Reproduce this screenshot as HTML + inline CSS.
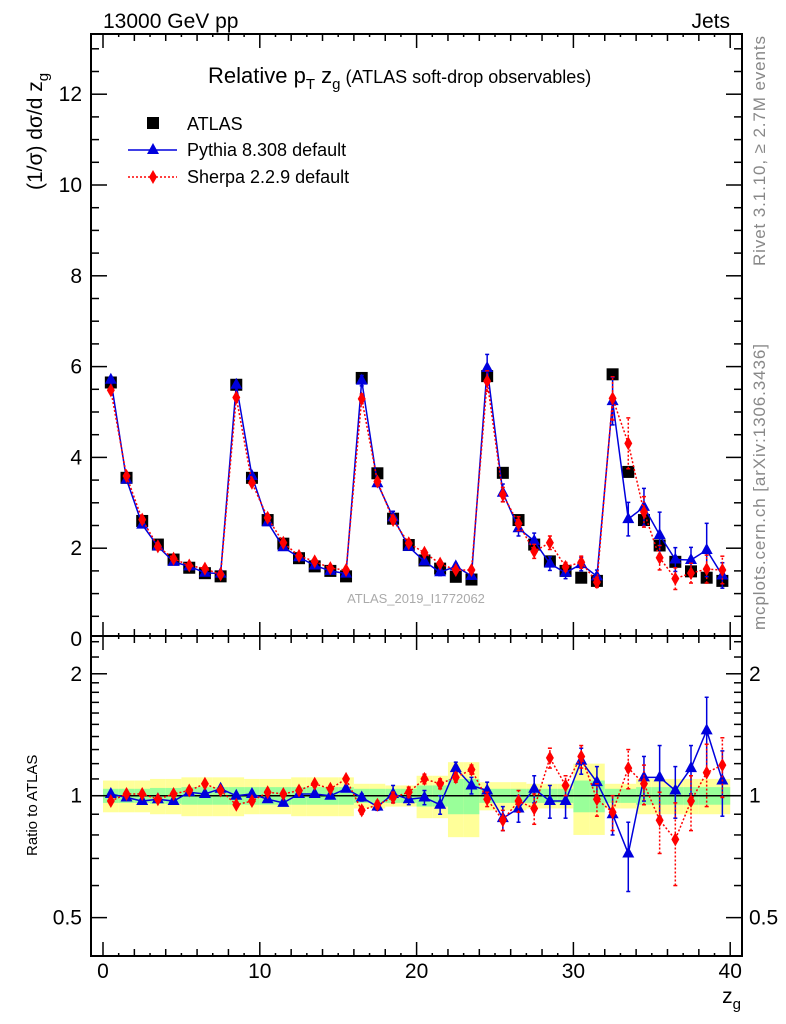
<!DOCTYPE html>
<html><head><meta charset="utf-8"><style>
html,body{margin:0;padding:0;background:#fff;}
svg{display:block;font-family:"Liberation Sans",sans-serif;}
</style></head><body>
<svg id="c" width="786" height="1024" viewBox="0 0 786 1024">
<g id="bands"></g>
<g id="marks"></g>
<g id="axes"></g>
<text x="103" y="28" font-size="21">13000 GeV pp</text>
<text x="730" y="28" font-size="21" text-anchor="end">Jets</text>
<text x="208" y="83" font-size="22">Relative p<tspan font-size="15" dy="6">T</tspan><tspan dy="-6"> z</tspan><tspan font-size="15" dy="6">g</tspan><tspan font-size="18" dy="-6"> (ATLAS soft-drop observables)</tspan></text>
<text x="416" y="603" font-size="13" fill="#aaa" text-anchor="middle">ATLAS_2019_I1772062</text>
<text transform="translate(42,190) rotate(-90)" font-size="21" text-anchor="start">(1/σ) dσ/d z<tspan font-size="15" dy="6">g</tspan></text>
<text transform="translate(37,856) rotate(-90)" font-size="15">Ratio to ATLAS</text>
<text x="741" y="1003" font-size="21" text-anchor="end">z<tspan font-size="15" dy="6">g</tspan></text>
<text transform="translate(765,266) rotate(-90)" font-size="17" fill="#888" textLength="230">Rivet 3.1.10, ≥ 2.7M events</text>
<text transform="translate(765,630) rotate(-90)" font-size="17" fill="#888" textLength="286">mcplots.cern.ch [arXiv:1306.3436]</text>
<g>
<rect x="147" y="117" width="12" height="12" fill="#000"/>
<text x="187" y="130" font-size="18">ATLAS</text>
<line x1="128" y1="150" x2="177" y2="150" stroke="#0000dd" stroke-width="1.5"/>
<polygon points="153,143 159,154 147,154" fill="#0000dd"/>
<text x="187" y="156" font-size="18">Pythia 8.308 default</text>
<line x1="128" y1="177" x2="177" y2="177" stroke="#f00" stroke-width="1.5" stroke-dasharray="2,2"/>
<polygon points="153,170 157,177 153,184 149,177" fill="#f00"/>
<text x="187" y="183" font-size="18">Sherpa 2.2.9 default</text>
</g>
</svg>
<script>
const dataVals=[5.65,3.55,2.6,2.08,1.75,1.57,1.45,1.38,5.6,3.55,2.62,2.1,1.78,1.6,1.5,1.38,5.75,3.65,2.65,2.07,1.73,1.55,1.37,1.31,5.79,3.66,2.62,2.08,1.71,1.5,1.35,1.28,5.83,3.68,2.62,2.06,1.7,1.49,1.35,1.28];
const dataStat=[.04,.04,.04,.045,.045,.05,.05,.05,.05,.05,.05,.05,.05,.05,.05,.05,.04,.04,.04,.04,.06,.06,.1,.1,.04,.04,.04,.04,.04,.04,.09,.09,.04,.04,.05,.05,.05,.05,.05,.05];
const dataTot=[.09,.09,.09,.1,.1,.11,.11,.11,.11,.1,.1,.1,.11,.11,.11,.11,.07,.07,.06,.06,.12,.12,.21,.21,.08,.08,.08,.07,.07,.07,.2,.2,.07,.07,.1,.1,.1,.1,.1,.1];
const pyVals=[5.71,3.51,2.52,2.04,1.70,1.60,1.46,1.44,5.6,3.59,2.57,2.02,1.80,1.62,1.5,1.44,5.69,3.43,2.68,2.03,1.71,1.47,1.60,1.39,5.97,3.22,2.44,2.16,1.66,1.46,1.65,1.38,5.24,2.64,2.91,2.29,1.75,1.74,1.96,1.40];
const pyRatio=[1.01,.99,.97,.98,.97,1.02,1.01,1.04,1.0,1.01,.98,.96,1.01,1.01,1.0,1.04,.99,.94,1.01,.98,.99,.95,1.17,1.06,1.03,.88,.93,1.04,.97,.97,1.22,1.08,.90,.72,1.11,1.11,1.03,1.17,1.45,1.09];
const pyErr=[.01,.01,.01,.01,.01,.01,.01,.01,.01,.01,.01,.01,.01,.01,.01,.015,.02,.02,.05,.03,.04,.05,.04,.05,.05,.06,.07,.08,.09,.09,.09,.10,.10,.14,.14,.22,.15,.16,.3,.2];
const shVals=[5.48,3.59,2.63,2.04,1.77,1.62,1.55,1.42,5.32,3.44,2.67,2.12,1.83,1.71,1.56,1.52,5.29,3.47,2.62,2.11,1.90,1.66,1.52,1.52,5.68,3.18,2.54,1.93,2.12,1.59,1.69,1.25,5.30,4.31,2.80,1.79,1.33,1.45,1.54,1.52];
const shRatio=[.97,1.01,1.01,.98,1.01,1.03,1.07,1.03,.95,.97,1.02,1.01,1.03,1.07,1.04,1.10,.92,.95,.99,1.02,1.10,1.07,1.11,1.16,.98,.87,.97,.93,1.24,1.06,1.25,.98,.91,1.17,1.07,.87,.78,.97,1.14,1.19];
const shErr=[.01,.01,.01,.01,.01,.01,.01,.01,.01,.01,.01,.01,.01,.01,.01,.01,.02,.02,.03,.03,.03,.03,.03,.03,.04,.05,.06,.08,.07,.06,.08,.09,.09,.13,.12,.15,.18,.15,.2,.2];
const xTicks=[0,10,20,30,40];
const yTicks=[0,2,4,6,8,10,12];
const rTicks=[0.5,1,2];

const NS="http://www.w3.org/2000/svg";
const X0=103,XS=15.68,Y0=639,YS=45.4,R1=795.7,RS=405;
const L=91,R=742,T=34,MB=636,RB=956;
const xs=v=>X0+v*XS, ym=v=>Y0-v*YS, yr=v=>R1-Math.log10(v)*RS;
function mk(tag,at,parent){const e=document.createElementNS(NS,tag);for(const k in at)e.setAttribute(k,at[k]);(parent||document.getElementById('marks')).appendChild(e);return e;}
const bands=document.getElementById('bands'),axes=document.getElementById('axes');
dataVals.forEach((d,i)=>{
  let b=mk('rect',{x:xs(i),y:yr(1+dataTot[i]),width:XS,height:yr(1-dataTot[i])-yr(1+dataTot[i]),fill:'#ffff99'},bands);
  
  
  let g=mk('rect',{x:xs(i),y:yr(1+dataStat[i]),width:XS,height:yr(1-dataStat[i])-yr(1+dataStat[i]),fill:'#99ff99'},bands);
  
  
});
mk('line',{x1:L,y1:R1,x2:R,y2:R1,stroke:'#000','stroke-width':1.5},bands);
function series(vals,err,color,dash,shape,ysc,name,rel){
  const g=mk('g',{});
  
  
  const pts=vals.map((v,i)=>xs(i+0.5)+','+ysc(v)).join(' ');
  mk('polyline',{points:pts,fill:'none',stroke:color,'stroke-width':1.5,'stroke-dasharray':dash},g);
  vals.forEach((v,i)=>{
    const x=xs(i+0.5),y=ysc(v),e=rel?err[i]:v*err[i];
    const lo=ysc(v-e),hi=ysc(v+e);
    if(Math.abs(lo-hi)>4){
      mk('line',{x1:x,y1:lo,x2:x,y2:hi,stroke:color,'stroke-width':1.5,'stroke-dasharray':dash},g);
      mk('line',{x1:x-2,y1:lo,x2:x+2,y2:lo,stroke:color,'stroke-width':1.5},g);
      mk('line',{x1:x-2,y1:hi,x2:x+2,y2:hi,stroke:color,'stroke-width':1.5},g);
    }
    let m;
    if(shape==='tri')m=mk('polygon',{points:`${x},${y-7} ${x+6},${y+4} ${x-6},${y+4}`,fill:color},g);
    else m=mk('polygon',{points:`${x},${y-7} ${x+4},${y} ${x},${y+7} ${x-4},${y}`,fill:color},g);
    
    
  });
}
const dg=mk('g',{});


dataVals.forEach((v,i)=>{
  const s=mk('rect',{x:xs(i+0.5)-6,y:ym(v)-6,width:12,height:12,fill:'#000'},dg);
  
  
});
series(pyVals,pyErr,'#0000dd','none','tri',ym,'pythia-series',false);
series(shVals,shErr,'#f00','2,2','dia',ym,'sherpa-series',false);
series(pyRatio,pyErr,'#0000dd','none','tri',yr,'pythia-ratio',true);
series(shRatio,shErr,'#f00','2,2','dia',yr,'sherpa-ratio',true);
mk('rect',{x:L,y:T,width:R-L,height:MB-T,fill:'none',stroke:'#000','stroke-width':2},axes);
mk('rect',{x:L,y:MB,width:R-L,height:RB-MB,fill:'none',stroke:'#000','stroke-width':2},axes);
for(let v=0;v<=40;v+=1){
  const big=v%10===0,len=big?14:(v%2===0?7:3),x=xs(v);
  [MB,RB].forEach(b=>mk('line',{x1:x,y1:b,x2:x,y2:b-len,stroke:'#000','stroke-width':1.5},axes));
  [T,MB].forEach(b=>mk('line',{x1:x,y1:b,x2:x,y2:b+len,stroke:'#000','stroke-width':1.5},axes));
}
xTicks.forEach(v=>{const t=mk('text',{x:xs(v),y:978,'font-size':21,'text-anchor':'middle'},axes);t.textContent=v;
  
  });
for(let v=0;v<=13;v+=0.5){
  const big=v%2===0,len=big?16:8,y=ym(v);if(y<T||y>MB)continue;
  mk('line',{x1:L,y1:y,x2:L+len,y2:y,stroke:'#000','stroke-width':1.5},axes);
  mk('line',{x1:R,y1:y,x2:R-len,y2:y,stroke:'#000','stroke-width':1.5},axes);
}
yTicks.forEach(v=>{const t=mk('text',{x:82,y:ym(v)+7,'font-size':21,'text-anchor':'end'},axes);t.textContent=v;
  
  });
[0.4,0.5,0.6,0.7,0.8,0.9,1,1.1,1.2,1.3,1.4,1.5,1.6,1.7,1.8,1.9,2,2.2,2.4].forEach(v=>{
  const y=yr(v);if(y<MB+2||y>RB-2)return;const big=rTicks.includes(v),len=big?16:8;
  mk('line',{x1:L,y1:y,x2:L+len,y2:y,stroke:'#000','stroke-width':1.5},axes);
  mk('line',{x1:R,y1:y,x2:R-len,y2:y,stroke:'#000','stroke-width':1.5},axes);
});
rTicks.forEach(v=>{
  const a=mk('text',{x:82,y:yr(v)+7,'font-size':21,'text-anchor':'end'},axes);a.textContent=v;
  
  
  const b=mk('text',{x:749,y:yr(v)+7,'font-size':21},axes);b.textContent=v;
  
  
});
</script>
</body></html>
